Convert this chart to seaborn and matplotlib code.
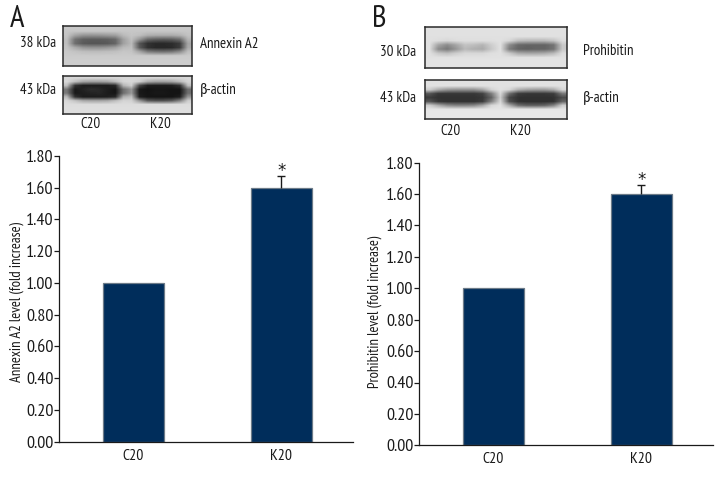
from __future__ import annotations

import matplotlib

matplotlib.use("Agg")

import matplotlib.pyplot as plt
import numpy as np
import pandas as pd
import seaborn as sns

groups = ["C20", "K20"]
annexin_levels = [1.00, 1.60]
annexin_errors = [0.0, 0.075]
prohibitin_levels = [1.00, 1.60]
prohibitin_errors = [0.0, 0.06]
y_ticks = [0.0, 0.2, 0.4, 0.6, 0.8, 1.0, 1.2, 1.4, 1.6, 1.8]

# blots: coarse grey levels, one row per strip
annexin_blot = [
    [200] * 16,
    [198] * 16,
    [196, 165, 150, 148, 150, 155, 160, 185, 196, 190, 175, 172, 172, 172, 178, 194],
    [190, 115, 95, 92, 92, 95, 105, 160, 190, 150, 105, 95, 92, 95, 110, 180],
    [190, 110, 90, 85, 85, 88, 100, 160, 185, 85, 50, 42, 42, 45, 60, 165],
    [195, 170, 150, 145, 145, 150, 160, 185, 190, 90, 50, 40, 40, 42, 60, 170],
    [200, 195, 190, 188, 188, 190, 192, 198, 196, 165, 125, 115, 112, 118, 140, 190],
    [202] * 16,
    [205] * 16,
    [205] * 16,
]
annexin_actin = [
    [215] * 16,
    [215, 190, 165, 160, 160, 165, 185, 212, 215, 205, 170, 160, 160, 165, 185, 212],
    [190, 50, 30, 30, 30, 30, 40, 180, 205, 70, 30, 28, 28, 30, 50, 190],
    [120, 25, 35, 45, 40, 30, 22, 110, 150, 25, 18, 22, 22, 20, 20, 110],
    [120, 25, 30, 35, 38, 28, 22, 110, 150, 25, 20, 24, 24, 20, 20, 110],
    [185, 50, 28, 28, 28, 30, 40, 175, 190, 30, 20, 20, 20, 20, 30, 150],
    [215, 195, 170, 165, 165, 170, 190, 212, 210, 150, 90, 80, 80, 90, 130, 205],
    [220] * 16,
    [222] * 16,
    [222] * 16,
]
prohibitin_blot = [
    [225] * 16,
    [225] * 16,
    [224] * 16,
    [224, 220, 215, 220, 222, 222, 222, 222, 224, 215, 190, 185, 185, 185, 195, 220],
    [224, 165, 140, 165, 195, 190, 180, 205, 224, 140, 105, 100, 100, 100, 115, 200],
    [224, 140, 120, 150, 185, 175, 170, 200, 224, 125, 100, 95, 100, 100, 115, 200],
    [224, 200, 190, 205, 215, 215, 215, 222, 224, 200, 170, 165, 165, 170, 185, 220],
    [225] * 16,
    [228] * 16,
    [228] * 16,
]
prohibitin_actin = [
    [225] * 16,
    [225] * 16,
    [205, 170, 150, 145, 145, 145, 165, 210, 225, 215, 175, 160, 155, 155, 170, 215],
    [85, 55, 55, 55, 55, 55, 65, 125, 215, 110, 60, 55, 55, 55, 60, 120],
    [60, 50, 50, 50, 50, 50, 55, 100, 205, 70, 50, 48, 48, 48, 50, 75],
    [85, 55, 50, 50, 50, 50, 60, 130, 215, 80, 50, 48, 48, 48, 50, 100],
    [205, 170, 140, 130, 130, 135, 165, 215, 225, 170, 110, 95, 95, 100, 130, 205],
    [228] * 16,
    [230] * 16,
    [230] * 16,
]

W, H = 720, 480
BAR_COLOR = "#002d5b"
INK = "#1a1a1a"

sns.set_theme(style="ticks")
plt.rcParams["font.family"] = ["PT Sans Narrow", "Fira Sans Extra Condensed", "DejaVu Sans"]
plt.rcParams["text.color"] = INK
plt.rcParams["xtick.color"] = INK
plt.rcParams["ytick.color"] = INK

fig = plt.figure(figsize=(W / 100, H / 100), dpi=100, facecolor="white")


def px_axes(left, top, right, bottom):
    return fig.add_axes([left / W, 1 - bottom / H, (right - left) / W, (bottom - top) / H])


def px_text(x, y, s, size=10.7, ha="left", **kwargs):
    return fig.text(x / W, 1 - y / H, s, fontsize=size, ha=ha, va="center", **kwargs)


def draw_blot(grid, box):
    ax = px_axes(*box)
    ax.imshow(np.array(grid), cmap="gray", vmin=0, vmax=255, aspect="auto", interpolation="bilinear")
    ax.set_xticks([])
    ax.set_yticks([])
    for spine in ax.spines.values():
        spine.set_linewidth(1.1)
        spine.set_color("#2a2a2a")


def draw_bars(levels, errors, box):
    ax = px_axes(*box)
    df = pd.DataFrame({"group": groups, "level": levels})
    sns.barplot(data=df, x="group", y="level", color=BAR_COLOR, saturation=1, width=0.41,
                edgecolor="#6d7b88", linewidth=0.9, ax=ax)
    top = levels[1] + errors[1]
    ax.vlines(1, levels[1], top, color=INK, lw=1.0)
    ax.plot(1, top, marker="_", ms=6, mew=1.0, color=INK)
    ax.annotate("*", (1, top), xytext=(0, -3), textcoords="offset points",
                ha="center", va="bottom", fontsize=12, family="DejaVu Sans")
    ax.set_xlim(-0.503, 1.483)
    ax.set_ylim(0, 1.8)
    ax.set_yticks(y_ticks)
    ax.set_yticklabels([f"{v:.2f}" for v in y_ticks], fontsize=13)
    ax.tick_params(axis="y", length=3.6, width=0.9, pad=0.5)
    ax.tick_params(axis="x", length=0, pad=5, labelsize=11.3)
    ax.set_xlabel("")
    ax.set_ylabel("")
    for side in ("left", "bottom"):
        ax.spines[side].set_linewidth(0.9)
        ax.spines[side].set_color(INK)
    sns.despine(ax=ax)
    return ax


# panel A
px_text(10, 19, "A", size=22)
draw_blot(annexin_blot, (63, 26, 192, 66))
draw_blot(annexin_actin, (63, 76, 192, 114))
px_text(56, 43, "38 kDa", ha="right")
px_text(56, 90, "43 kDa", ha="right")
px_text(200, 44, "Annexin A2")
px_text(200, 90, "β-actin")
px_text(90, 124, "C20", ha="center")
px_text(160, 124, "K20", ha="center")
draw_bars(annexin_levels, annexin_errors, (59, 156, 353, 441.7))
px_text(17, 302, "Annexin A2 level (fold increase)", size=10.5, ha="center", rotation=90)

# panel B
px_text(372, 19, "B", size=22)
draw_blot(prohibitin_blot, (425, 27, 567, 68))
draw_blot(prohibitin_actin, (425, 80, 567, 119))
px_text(416, 52, "30 kDa", ha="right")
px_text(416, 98, "43 kDa", ha="right")
px_text(583, 51, "Prohibitin")
px_text(583, 98, "β-actin")
px_text(450, 131, "C20", ha="center")
px_text(520, 131, "K20", ha="center")
draw_bars(prohibitin_levels, prohibitin_errors, (419, 162.7, 713, 445.3))
px_text(375, 312, "Prohibitin level (fold increase)", size=10.5, ha="center", rotation=90)

fig.savefig("out.png", dpi=100)
